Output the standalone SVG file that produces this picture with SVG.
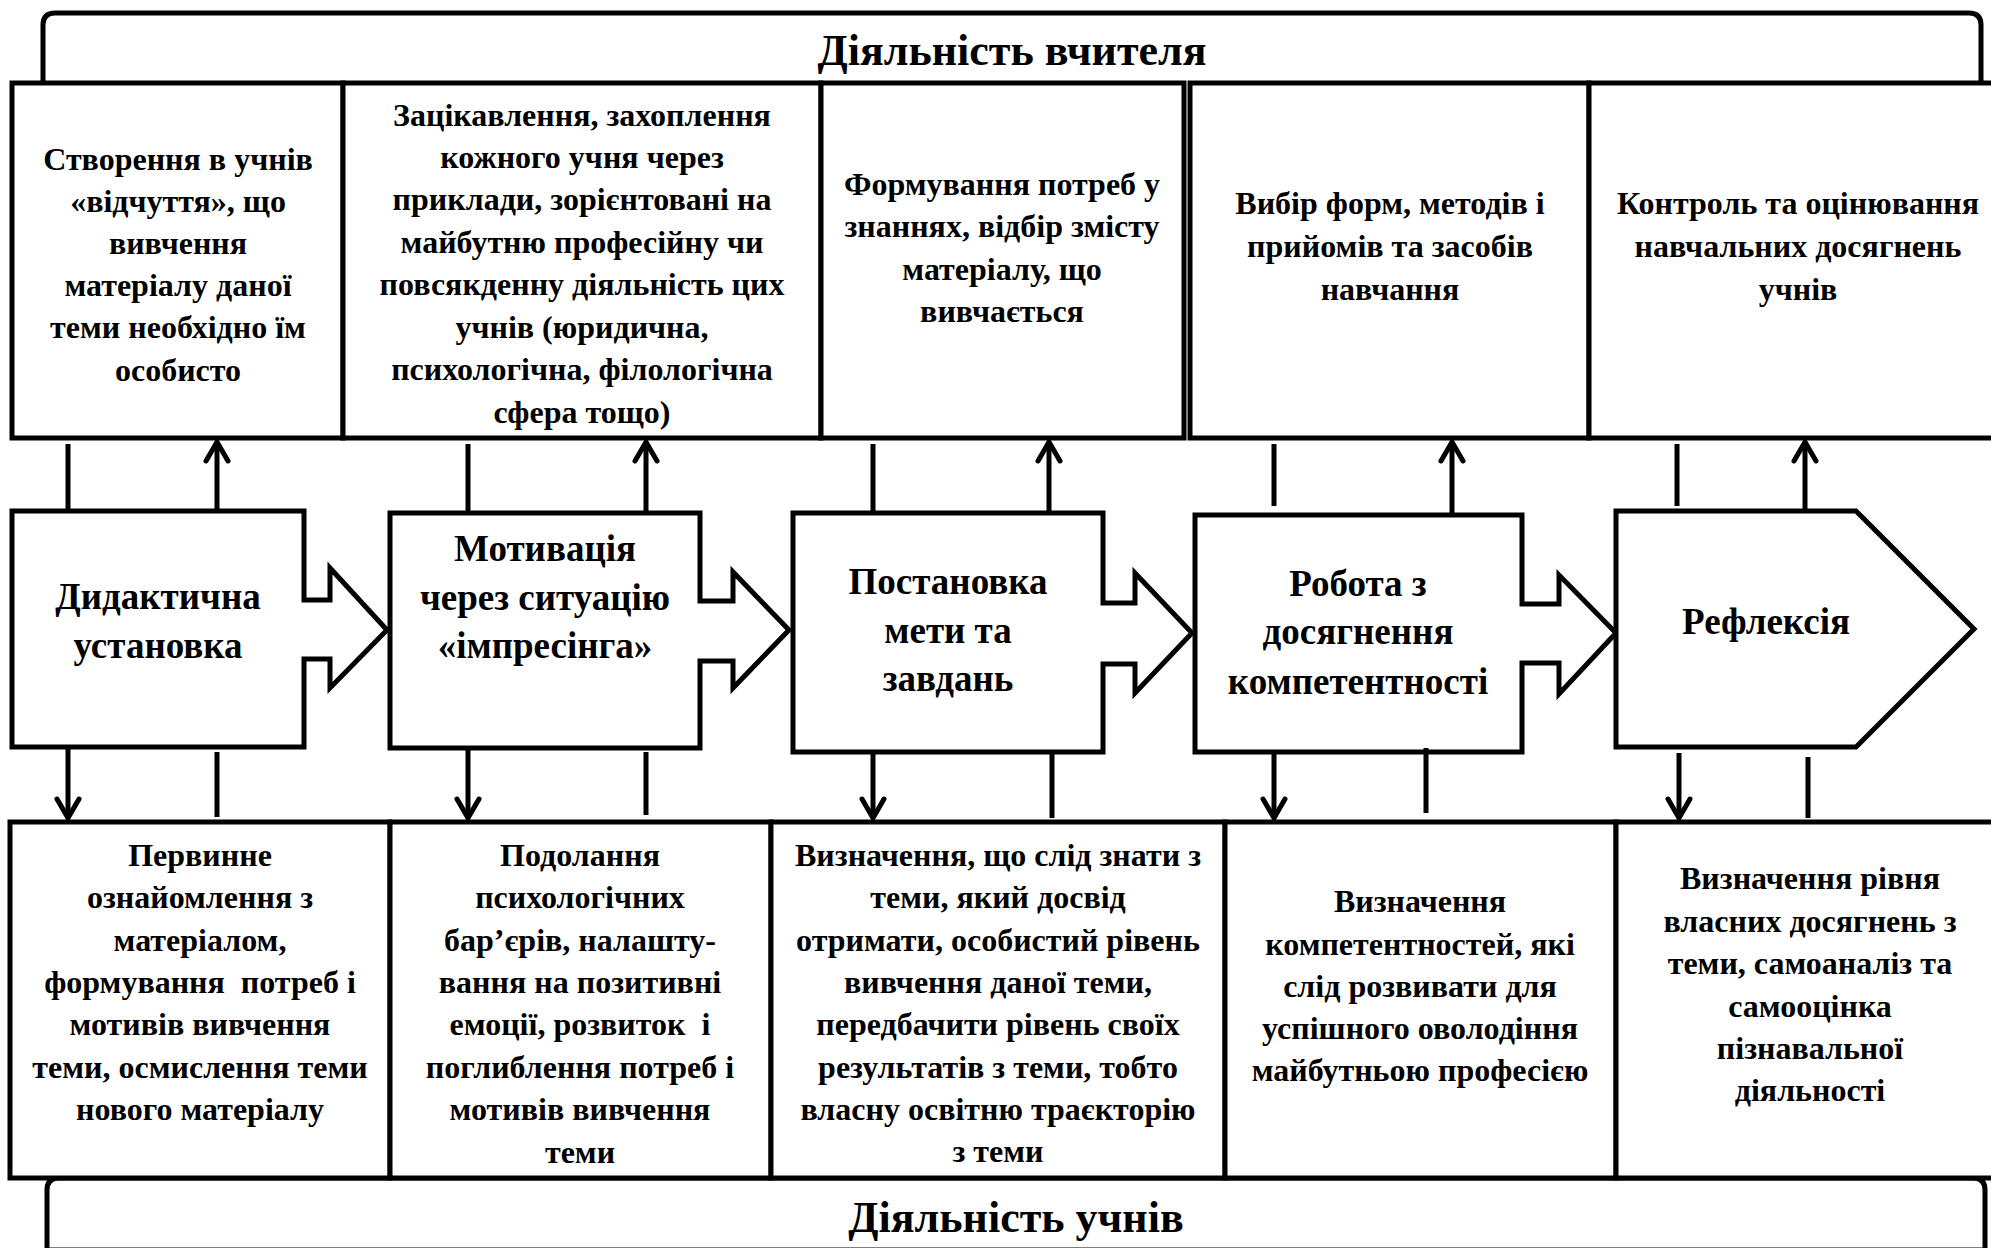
<svg xmlns="http://www.w3.org/2000/svg" width="1991" height="1248" viewBox="0 0 1991 1248">
<style>
.box{fill:#fff;stroke:#000;stroke-width:5;stroke-linejoin:miter}
.hdr{fill:#fff;stroke:#000;stroke-width:5}
.ln{fill:none;stroke:#000;stroke-width:5}
.t{font-family:"Liberation Serif","Times New Roman",serif;font-weight:bold;font-size:32px;text-anchor:middle;fill:#000;white-space:pre}
.p{font-size:37px}
.h{font-size:44px}
</style>
<defs>
<marker id="arr" markerUnits="userSpaceOnUse" markerWidth="26" markerHeight="26" viewBox="0 0 26 26" refX="22" refY="13" orient="auto" overflow="visible">
<path d="M3,2 L22,13 L3,24" fill="none" stroke="#000" stroke-width="5" stroke-linecap="round" stroke-linejoin="miter"/>
</marker>
</defs>
<rect width="1991" height="1248" fill="#fff"/>

<g id="header-teacher">
<path class="hdr" d="M43,83 V25 Q43,13 55,13 H1969 Q1981,13 1981,25 V83"/>
<text class="t h" x="1012" y="65">Діяльність вчителя</text>
</g>
<g id="header-students">
<path class="hdr" d="M47,1250 V1190 Q47,1178 59,1178 H1973 Q1985,1178 1985,1190 V1250 Z"/>
<text class="t h" x="1016" y="1232">Діяльність учнів</text>
</g>

<g id="t1"><rect class="box" x="12" y="83" width="331" height="355"/>
<text class="t"><tspan x="178" y="170">Створення в учнів</tspan><tspan x="178" y="212">«відчуття», що</tspan><tspan x="178" y="254">вивчення</tspan><tspan x="178" y="296">матеріалу даної</tspan><tspan x="178" y="338">теми необхідно їм</tspan><tspan x="178" y="381">особисто</tspan></text></g>
<g id="t2"><rect class="box" x="343" y="83" width="478" height="355"/>
<text class="t"><tspan x="582" y="126">Зацікавлення, захоплення</tspan><tspan x="582" y="168">кожного учня через</tspan><tspan x="582" y="210">приклади, зорієнтовані на</tspan><tspan x="582" y="253">майбутню професійну чи</tspan><tspan x="582" y="295">повсякденну діяльність цих</tspan><tspan x="582" y="338">учнів (юридична,</tspan><tspan x="582" y="380">психологічна, філологічна</tspan><tspan x="582" y="423">сфера тощо)</tspan></text></g>
<g id="t3"><rect class="box" x="821" y="83" width="363" height="355"/>
<text class="t"><tspan x="1002" y="195">Формування потреб у</tspan><tspan x="1002" y="237">знаннях, відбір змісту</tspan><tspan x="1002" y="280">матеріалу, що</tspan><tspan x="1002" y="322">вивчається</tspan></text></g>
<g id="t4"><rect class="box" x="1190" y="83" width="399" height="355"/>
<text class="t"><tspan x="1390" y="214">Вибір форм, методів і</tspan><tspan x="1390" y="257">прийомів та засобів</tspan><tspan x="1390" y="300">навчання</tspan></text></g>
<g id="t5"><rect class="box" x="1589" y="83" width="430" height="355"/>
<text class="t"><tspan x="1798" y="214">Контроль та оцінювання</tspan><tspan x="1798" y="257">навчальних досягнень</tspan><tspan x="1798" y="300">учнів</tspan></text></g>

<g id="p1"><path class="box" d="M12,511 H304 V600 H330 V568 L387,630 L330,688 V659 H304 V747 H12 Z"/>
<text class="t p"><tspan x="158" y="609">Дидактична</tspan><tspan x="158" y="658">установка</tspan></text></g>
<g id="p2"><path class="box" d="M390,513 H700 V601 H733 V572 L789,630 L733,688 V661 H700 V748 H390 Z"/>
<text class="t p"><tspan x="545" y="561">Мотивація</tspan><tspan x="545" y="610">через ситуацію</tspan><tspan x="545" y="658">«імпресінга»</tspan></text></g>
<g id="p3"><path class="box" d="M793,513 H1103 V603 H1135 V573 L1192,633 L1135,693 V664 H1103 V752 H793 Z"/>
<text class="t p"><tspan x="948" y="594">Постановка</tspan><tspan x="948" y="643">мети та</tspan><tspan x="948" y="691">завдань</tspan></text></g>
<g id="p4"><path class="box" d="M1195,515 H1522 V604 H1559 V575 L1616,633 L1559,694 V663 H1522 V752 H1195 Z"/>
<text class="t p"><tspan x="1358" y="596">Робота з</tspan><tspan x="1358" y="644">досягнення</tspan><tspan x="1358" y="694">компетентності</tspan></text></g>
<g id="p5"><path class="box" d="M1616,511 H1856 L1974,629 L1856,747 H1616 Z"/>
<text class="t p" x="1766" y="634">Рефлексія</text></g>

<g id="s1"><rect class="box" x="10" y="822" width="380" height="356"/>
<text class="t"><tspan x="200" y="866">Первинне</tspan><tspan x="200" y="908">ознайомлення з</tspan><tspan x="200" y="951">матеріалом,</tspan><tspan x="200" y="993">формування  потреб і</tspan><tspan x="200" y="1035">мотивів вивчення</tspan><tspan x="200" y="1078">теми, осмислення теми</tspan><tspan x="200" y="1120">нового матеріалу</tspan></text></g>
<g id="s2"><rect class="box" x="390" y="822" width="381" height="356"/>
<text class="t"><tspan x="580" y="866">Подолання</tspan><tspan x="580" y="908">психологічних</tspan><tspan x="580" y="951">бар’єрів, налашту-</tspan><tspan x="580" y="993">вання на позитивні</tspan><tspan x="580" y="1035">емоції, розвиток  і</tspan><tspan x="580" y="1078">поглиблення потреб і</tspan><tspan x="580" y="1120">мотивів вивчення</tspan><tspan x="580" y="1163">теми</tspan></text></g>
<g id="s3"><rect class="box" x="771" y="822" width="454" height="356"/>
<text class="t"><tspan x="998" y="866">Визначення, що слід знати з</tspan><tspan x="998" y="908">теми, який досвід</tspan><tspan x="998" y="951">отримати, особистий рівень</tspan><tspan x="998" y="993">вивчення даної теми,</tspan><tspan x="998" y="1035">передбачити рівень своїх</tspan><tspan x="998" y="1078">результатів з теми, тобто</tspan><tspan x="998" y="1120">власну освітню траєкторію</tspan><tspan x="998" y="1162">з теми</tspan></text></g>
<g id="s4"><rect class="box" x="1225" y="822" width="391" height="356"/>
<text class="t"><tspan x="1420" y="912">Визначення</tspan><tspan x="1420" y="955">компетентностей, які</tspan><tspan x="1420" y="997">слід розвивати для</tspan><tspan x="1420" y="1039">успішного оволодіння</tspan><tspan x="1420" y="1081">майбутньою професією</tspan></text></g>
<g id="s5"><rect class="box" x="1616" y="822" width="400" height="356"/>
<text class="t"><tspan x="1810" y="889">Визначення рівня</tspan><tspan x="1810" y="932">власних досягнень з</tspan><tspan x="1810" y="974">теми, самоаналіз та</tspan><tspan x="1810" y="1017">самооцінка</tspan><tspan x="1810" y="1059">пізнавальної</tspan><tspan x="1810" y="1101">діяльності</tspan></text></g>

<g id="connectors">
<line class="ln" x1="68" y1="444" x2="68" y2="510"/>
<line class="ln" x1="217" y1="510" x2="217" y2="442" marker-end="url(#arr)"/>
<line class="ln" x1="468" y1="444" x2="468" y2="511"/>
<line class="ln" x1="646" y1="511" x2="646" y2="442" marker-end="url(#arr)"/>
<line class="ln" x1="873" y1="444" x2="873" y2="511"/>
<line class="ln" x1="1049" y1="511" x2="1049" y2="442" marker-end="url(#arr)"/>
<line class="ln" x1="1274" y1="444" x2="1274" y2="506"/>
<line class="ln" x1="1452" y1="513" x2="1452" y2="442" marker-end="url(#arr)"/>
<line class="ln" x1="1677" y1="444" x2="1677" y2="506"/>
<line class="ln" x1="1805" y1="509" x2="1805" y2="442" marker-end="url(#arr)"/>

<line class="ln" x1="68" y1="749" x2="68" y2="818" marker-end="url(#arr)"/>
<line class="ln" x1="217" y1="752" x2="217" y2="817"/>
<line class="ln" x1="468" y1="750" x2="468" y2="818" marker-end="url(#arr)"/>
<line class="ln" x1="646" y1="752" x2="646" y2="815"/>
<line class="ln" x1="873" y1="754" x2="873" y2="818" marker-end="url(#arr)"/>
<line class="ln" x1="1052" y1="754" x2="1052" y2="818"/>
<line class="ln" x1="1274" y1="754" x2="1274" y2="818" marker-end="url(#arr)"/>
<line class="ln" x1="1426" y1="748" x2="1426" y2="813"/>
<line class="ln" x1="1679" y1="753" x2="1679" y2="818" marker-end="url(#arr)"/>
<line class="ln" x1="1808" y1="757" x2="1808" y2="818"/>
</g>
</svg>
